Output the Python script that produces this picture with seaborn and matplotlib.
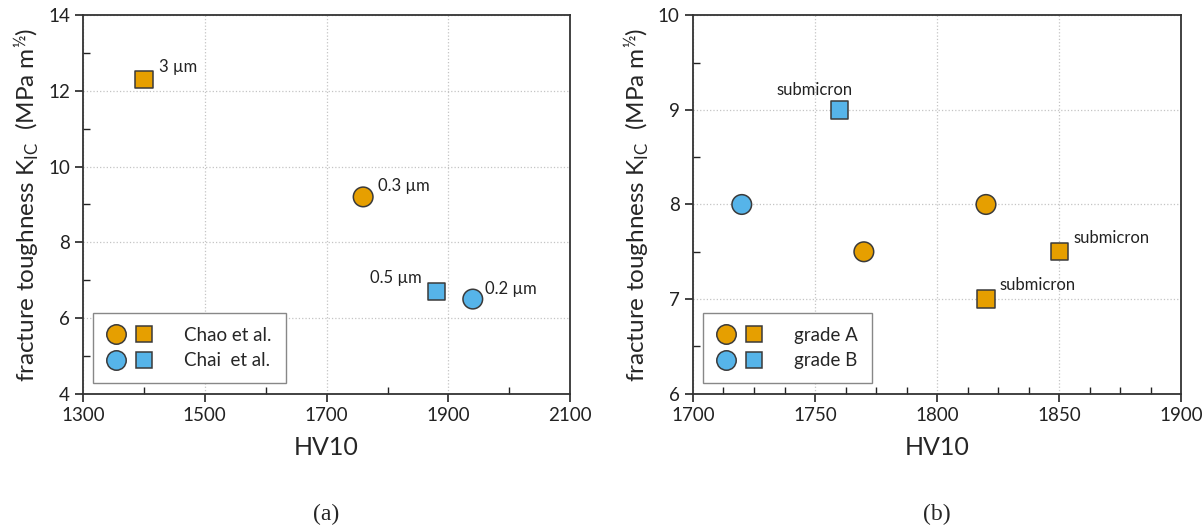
import matplotlib
matplotlib.use("Agg")
import matplotlib.pyplot as plt
import seaborn as sns
import pandas as pd
import numpy as np
from matplotlib.lines import Line2D
from matplotlib.legend_handler import HandlerTuple
from matplotlib.ticker import MultipleLocator

# ---- data: panel (a)
a_hv = [1760, 1400, 1880, 1940]
a_kic = [9.2, 12.3, 6.7, 6.5]
a_group = ["Chao et al.", "Chao et al.", "Chai  et al.", "Chai  et al."]
a_shape = ["circle", "square", "square", "circle"]
a_labels = ["0.3 µm", "3 µm", "0.5 µm", "0.2 µm"]
a_xticks = [1300, 1500, 1700, 1900, 2100]
a_yticks = [4, 6, 8, 10, 12, 14]

# ---- data: panel (b)
b_hv = [1770, 1820, 1820, 1850, 1720, 1760]
b_kic = [7.5, 8.0, 7.0, 7.5, 8.0, 9.0]
b_group = ["grade A", "grade A", "grade A", "grade A", "grade B", "grade B"]
b_shape = ["circle", "circle", "square", "square", "circle", "square"]
b_labels = ["", "", "submicron", "submicron", "", "submicron"]
b_xticks = [1700, 1750, 1800, 1850, 1900]
b_yticks = [6, 7, 8, 9, 10]

ORANGE = "#E69F00"
BLUE = "#56B4E9"
EDGE = "#3a3a3a"

sns.set_style("ticks")
plt.rcParams["font.family"] = ["Lato", "DejaVu Sans"]
plt.rcParams["mathtext.fontset"] = "custom"
plt.rcParams["mathtext.rm"] = "Lato"
plt.rcParams["mathtext.it"] = "Lato:italic"

fig = plt.figure(figsize=(12.03, 5.27), dpi=100)
axA = fig.add_axes([0.069, 0.253, 0.405, 0.718])
axB = fig.add_axes([0.576, 0.253, 0.406, 0.718])

ylab = r"fracture toughness K$_{\mathrm{IC}}$  (MPa m$^{\mathrm{½}}$)"


def panel(ax, hv, kic, group, shape, labels, offsets, groups, xticks, yticks,
          xmin, ymin, caption):
    df = pd.DataFrame({"hv": hv, "kic": kic, "group": group, "shape": shape})
    pal = {groups[0]: ORANGE, groups[1]: BLUE}
    for shp, mk, size in [("circle", "o", 200), ("square", "s", 155)]:
        sub = df[df["shape"] == shp]
        sns.scatterplot(data=sub, x="hv", y="kic", hue="group", palette=pal,
                        marker=mk, s=size, edgecolor=EDGE, linewidth=1.1,
                        legend=False, ax=ax, zorder=3)
    for x, y, t, off in zip(hv, kic, labels, offsets):
        if t:
            ax.annotate(t, (x, y), xytext=off, textcoords="offset points",
                        fontsize=12, color="#222222", ha="left", va="center")
    ax.set_xticks(xticks)
    ax.set_yticks(yticks)
    ax.set_xlim(xticks[0], xticks[-1])
    ax.set_ylim(yticks[0], yticks[-1])
    ax.xaxis.set_minor_locator(MultipleLocator(xmin))
    ax.yaxis.set_minor_locator(MultipleLocator(ymin))
    ax.tick_params(which="major", direction="out", length=6, width=1.2,
                   labelsize=13.5, colors="#222222")
    ax.tick_params(which="minor", direction="in", length=5, width=1.0,
                   color="#222222")
    ax.grid(True, which="major", linestyle=":", color="#c4c4c4", linewidth=0.9)
    ax.set_axisbelow(True)
    for sp in ax.spines.values():
        sp.set_color("#333333")
        sp.set_linewidth(1.3)
    ax.set_xlabel("HV10", fontsize=18, labelpad=9)
    ax.set_ylabel(ylab, fontsize=17.5, labelpad=4)
    handles = [
        (Line2D([], [], marker="o", ls="", markersize=14, markerfacecolor=ORANGE,
                markeredgecolor=EDGE, markeredgewidth=1.1),
         Line2D([], [], marker="s", ls="", markersize=12, markerfacecolor=ORANGE,
                markeredgecolor=EDGE, markeredgewidth=1.1)),
        (Line2D([], [], marker="o", ls="", markersize=14, markerfacecolor=BLUE,
                markeredgecolor=EDGE, markeredgewidth=1.1),
         Line2D([], [], marker="s", ls="", markersize=12, markerfacecolor=BLUE,
                markeredgecolor=EDGE, markeredgewidth=1.1)),
    ]
    leg = ax.legend(handles, groups, handler_map={tuple: HandlerTuple(ndivide=None, pad=0.6)},
                    loc="lower left", bbox_to_anchor=(0.0, 0.0), fontsize=13.5,
                    handlelength=2.4, handletextpad=1.7, borderpad=0.75,
                    borderaxespad=0.55, labelspacing=0.45, fancybox=False,
                    framealpha=1, edgecolor="#888888")
    leg.get_frame().set_linewidth(1.0)
    ax.text(0.5, -0.318, caption, transform=ax.transAxes, ha="center", va="center",
            fontsize=17, family="Liberation Serif")


panel(axA, a_hv, a_kic, a_group, a_shape, a_labels,
      [(11, 8), (11, 9), (-48, 10), (9, 7)],
      ["Chao et al.", "Chai  et al."], a_xticks, a_yticks, 100, 1, "(a)")
panel(axB, b_hv, b_kic, b_group, b_shape, b_labels,
      [(0, 0), (0, 0), (10, 10), (10, 10), (0, 0), (-45, 14)],
      ["grade A", "grade B"], b_xticks, b_yticks, 12.5, 0.5, "(b)")

fig.savefig("out.png", dpi=100)
